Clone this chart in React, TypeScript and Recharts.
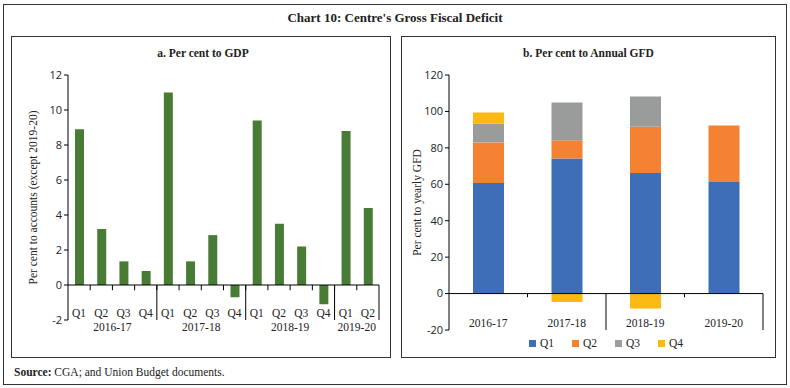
import React from 'react';
import { BarChart, Bar, XAxis, YAxis, ReferenceLine } from 'recharts';

// panel a: per cent to GDP, quarterly
const gdpYear = ['2016-17', '2016-17', '2016-17', '2016-17', '2017-18', '2017-18', '2017-18', '2017-18', '2018-19', '2018-19', '2018-19', '2018-19', '2019-20', '2019-20'];
const gdpQuarter = ['Q1', 'Q2', 'Q3', 'Q4', 'Q1', 'Q2', 'Q3', 'Q4', 'Q1', 'Q2', 'Q3', 'Q4', 'Q1', 'Q2'];
const gdpValues = [8.9, 3.2, 1.35, 0.8, 11.0, 1.35, 2.85, -0.7, 9.4, 3.5, 2.2, -1.1, 8.8, 4.4];
const gdpTicks = [-2, 0, 2, 4, 6, 8, 10, 12];

// panel b: per cent to annual GFD
const gfdYears = ['2016-17', '2017-18', '2018-19', '2019-20'];
const gfdQ1 = [60.7, 74.2, 66.2, 61.3];
const gfdQ2 = [22.3, 9.9, 25.4, 31.0];
const gfdQ3 = [10.2, 20.8, 16.6, null];
const gfdQ4 = [6.2, -4.6, -8.2, null];
const gfdTicks = [-20, 0, 20, 40, 60, 80, 100, 120];

const quarters = ['Q1', 'Q2', 'Q3', 'Q4'];
const quarterColors = ['#3e6eb7', '#f58232', '#9a9b9b', '#fdb913'];

const gdpData = gdpValues.map((v, i) => ({
  key: gdpYear[i] + ' ' + gdpQuarter[i],
  year: gdpYear[i],
  q: gdpQuarter[i],
  value: v,
}));

const gfdData = gfdYears.map((y, i) => ({
  year: y,
  Q1: gfdQ1[i],
  Q2: gfdQ2[i],
  Q3: gfdQ3[i],
  Q4: gfdQ4[i],
}));

const serif = '"Liberation Serif", "DejaVu Serif", serif';
const sans = '"Open Sans", "Liberation Sans", sans-serif';
const green = '#487c35';

const yearStarts = gdpData.map((d, i) => (i > 0 && gdpData[i - 1].year !== d.year ? d.key : null)).filter(Boolean) as string[];

const GdpTick = (props: any) => {
  const { x, y, payload, index } = props;
  const d = gdpData[index];
  const half = payload.offset ?? 11;
  const group = gdpData.filter((g) => g.year === d.year);
  const first = gdpData.findIndex((g) => g.year === d.year);
  const showYear = index === first + group.length / 2 - 1;
  return (
    <g>
      <text x={x} y={y} dy={-3} textAnchor="middle" fontFamily={serif} fontSize={11.5} fill="#222">
        {d.q}
      </text>
      {showYear && (
        <text x={x + half} y={y} dy={11} textAnchor="middle" fontFamily={serif} fontSize={11.5} fill="#222">
          {d.year}
        </text>
      )}
    </g>
  );
};

const GfdTick = (props: any) => {
  const { x, y, payload } = props;
  return (
    <text x={x} y={y} dy={-3} textAnchor="middle" fontFamily={serif} fontSize={11.5} fill="#222">
      {payload.value}
    </text>
  );
};

const yTickStyle = { fontFamily: sans, fontSize: 11, fill: '#222' };

const App: React.FC = () => {
  const lastKey = gdpData[gdpData.length - 1].key;
  return (
    <div style={{ position: 'absolute', left: 0, top: 0, width: 790, height: 388, background: '#fff' }}>
      {/* outer frame */}
      <div style={{ position: 'absolute', left: 3, top: 4, width: 782, height: 379, border: '1px solid #333' }} />
      <div
        style={{
          position: 'absolute', left: 0, top: 10, width: 790, textAlign: 'center',
          fontFamily: serif, fontWeight: 'bold', fontSize: 13, color: '#222',
        }}
      >
        Chart 10: Centre's Gross Fiscal Deficit
      </div>

      {/* panel a */}
      <div style={{ position: 'absolute', left: 11, top: 36, width: 378, height: 320, border: '1px solid #333' }} />
      <div
        style={{
          position: 'absolute', left: 11, top: 47, width: 384, textAlign: 'center',
          fontFamily: serif, fontWeight: 'bold', fontSize: 11.5, color: '#222',
        }}
      >
        a. Per cent to GDP
      </div>
      <div style={{ position: 'absolute', left: 11, top: 36 }}>
        <BarChart width={380} height={322} data={gdpData} margin={{ top: 39, right: 12, bottom: 8, left: 0 }}>
          <YAxis
            domain={[-2, 12]}
            ticks={gdpTicks}
            width={57}
            tickSize={4}
            tickMargin={2}
            tick={yTickStyle}
            axisLine={{ stroke: '#000' }}
            tickLine={{ stroke: '#000' }}
            label={{ value: 'Per cent to accounts (except 2019-20)', angle: -90, position: 'center', dx: -7, style: { fontFamily: serif, fontSize: 11.5, fill: '#222' } }}
          />
          <XAxis dataKey="key" height={30} tickSize={0} tickMargin={0} axisLine={false} tickLine={false} interval={0} tick={<GdpTick />} />
          <ReferenceLine y={0} stroke="#000" />
          {gdpData.slice(1).map((d) => (
            <ReferenceLine key={'t' + d.key} segment={[{ x: d.key, y: 0 }, { x: d.key, y: -0.3 }]} position="start" stroke="#000" />
          ))}
          {yearStarts.map((k) => (
            <ReferenceLine key={'s' + k} segment={[{ x: k, y: 0 }, { x: k, y: -2 }]} position="start" stroke="#000" />
          ))}
          <ReferenceLine segment={[{ x: lastKey, y: 0 }, { x: lastKey, y: -2 }]} position="end" stroke="#000" />
          <Bar dataKey="value" fill={green} barSize={9} isAnimationActive={false} />
        </BarChart>
      </div>

      {/* panel b */}
      <div style={{ position: 'absolute', left: 401, top: 36, width: 373, height: 320, border: '1px solid #333' }} />
      <div
        style={{
          position: 'absolute', left: 401, top: 47, width: 375, textAlign: 'center',
          fontFamily: serif, fontWeight: 'bold', fontSize: 11.5, color: '#222',
        }}
      >
        b. Per cent to Annual GFD
      </div>
      <div style={{ position: 'absolute', left: 401, top: 36 }}>
        <BarChart width={375} height={322} data={gfdData} stackOffset="sign" margin={{ top: 39, right: 13, bottom: 8, left: 0 }}>
          <YAxis
            domain={[-20, 120]}
            ticks={gfdTicks}
            width={48}
            tickSize={4}
            tickMargin={2}
            tick={yTickStyle}
            axisLine={{ stroke: '#000' }}
            tickLine={{ stroke: '#000' }}
            label={{ value: 'Per cent to yearly GFD', angle: -90, position: 'center', dx: -8, style: { fontFamily: serif, fontSize: 11.5, fill: '#222' } }}
          />
          <XAxis dataKey="year" height={20} tickSize={0} tickMargin={0} axisLine={false} tickLine={false} interval={0} tick={<GfdTick />} />
          {quarters.map((q, i) => (
            <Bar key={q} dataKey={q} stackId="a" fill={quarterColors[i]} barSize={31} isAnimationActive={false} />
          ))}
          <ReferenceLine y={0} stroke="#000" />
          <ReferenceLine segment={[{ x: gfdYears[1], y: 0 }, { x: gfdYears[1], y: -2 }]} position="start" stroke="#000" />
          <ReferenceLine segment={[{ x: gfdYears[3], y: 0 }, { x: gfdYears[3], y: -2 }]} position="start" stroke="#000" />
          <ReferenceLine segment={[{ x: gfdYears[2], y: 0 }, { x: gfdYears[2], y: -20 }]} position="start" stroke="#000" />
          <ReferenceLine segment={[{ x: gfdYears[3], y: 0 }, { x: gfdYears[3], y: -20 }]} position="end" stroke="#000" />
        </BarChart>
      </div>
      <div
        style={{
          position: 'absolute', left: 449, top: 337, width: 314, display: 'flex', justifyContent: 'center',
          fontFamily: serif, fontSize: 11.5, color: '#222',
        }}
      >
        {quarters.map((q, i) => (
          <div key={q} style={{ display: 'flex', alignItems: 'center', margin: '0 9px' }}>
            <span style={{ display: 'inline-block', width: 7, height: 7, background: quarterColors[i], marginRight: 4 }} />
            <span>{q}</span>
          </div>
        ))}
      </div>

      <div style={{ position: 'absolute', left: 14, top: 366, fontFamily: serif, fontSize: 11.5, color: '#222' }}>
        <b>Source:</b> CGA; and Union Budget documents.
      </div>
    </div>
  );
};

export default App;
